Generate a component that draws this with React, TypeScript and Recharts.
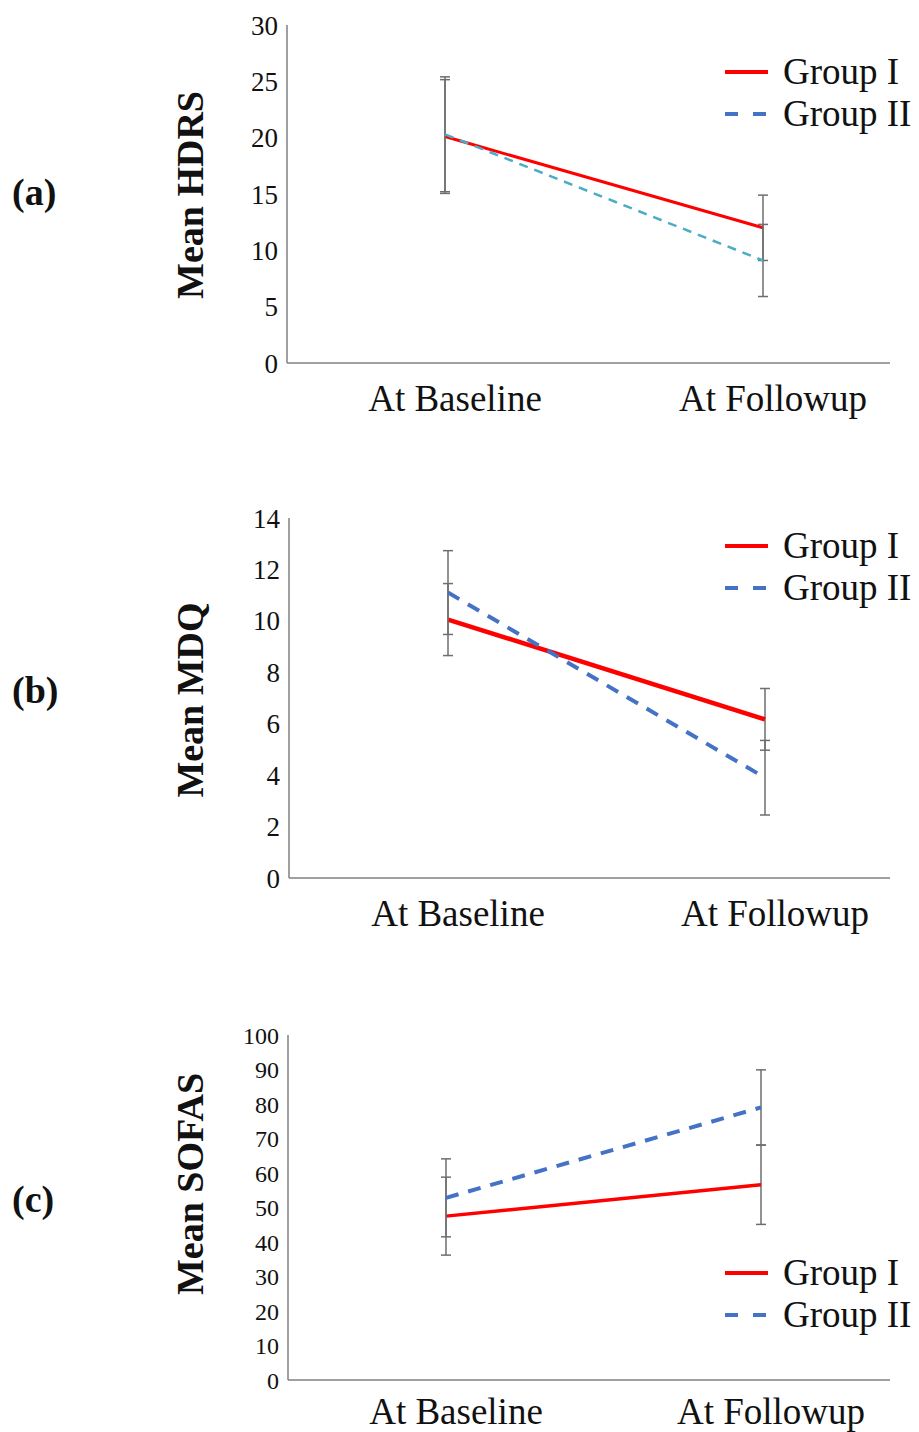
import { LineChart, Line, XAxis, YAxis, ErrorBar, Legend, Label } from "recharts";

const categories = ["At Baseline", "At Followup"];

const hdrsGroup1 = [20.1, 12.0];
const hdrsGroup1Err = [5.05, 2.9];
const hdrsGroup2 = [20.3, 9.1];
const hdrsGroup2Err = [5.1, 3.2];
const hdrsTicks = [0, 5, 10, 15, 20, 25, 30];

const mdqGroup1 = [10.05, 6.17];
const mdqGroup1Err = [1.4, 1.2];
const mdqGroup2 = [11.1, 3.9];
const mdqGroup2Err = [1.63, 1.45];
const mdqTicks = [0, 2, 4, 6, 8, 10, 12, 14];

const sofasGroup1 = [47.5, 56.6];
const sofasGroup1Err = [11.3, 11.5];
const sofasGroup2 = [52.8, 79.0];
const sofasGroup2Err = [11.3, 10.9];
const sofasTicks = [0, 10, 20, 30, 40, 50, 60, 70, 80, 90, 100];

const serif = "'Liberation Serif', 'Times New Roman', serif";
const RED = "#ff0000";
const BLUE = "#4472c4";
const TEAL = "#4bacc6";
const AXIS = "#808080";
const ERR = "#6e6e6e";

const build = (g1: number[], e1: number[], g2: number[], e2: number[]) =>
  categories.map((name, i) => ({ name, g1: g1[i], e1: e1[i], g2: g2[i], e2: e2[i] }));

const renderLegend = () => (
  <div style={{ fontFamily: serif, fontSize: 37, color: "#111" }}>
    {[
      { label: "Group I", color: RED, dash: undefined },
      { label: "Group II", color: BLUE, dash: "13 15" },
    ].map((it) => (
      <div key={it.label} style={{ display: "flex", alignItems: "center", height: 42 }}>
        <svg width={43} height={6} style={{ marginRight: 15 }}>
          <line x1={0} y1={3} x2={43} y2={3} stroke={it.color} strokeWidth={4} strokeDasharray={it.dash} />
        </svg>
        <span style={{ lineHeight: "42px" }}>{it.label}</span>
      </div>
    ))}
  </div>
);

type PanelProps = {
  top: number;
  height: number;
  xAxisHeight: number;
  xTickMargin: number;
  yAxisWidth: number;
  padLeft: number;
  padRight: number;
  data: any[];
  max: number;
  ticks: number[];
  tickSize: number;
  yLabel: string;
  yLabelY: number;
  panel: string;
  panelY: number;
  legendTop: number;
  g2Color: string;
  g1Width: number;
  g2Width: number;
  g2Dash: string;
};

function Panel(p: PanelProps) {
  return (
    <div style={{ position: "absolute", left: 0, top: p.top }}>
      <LineChart width={919} height={p.height} data={p.data} margin={{ top: 25, right: 29, left: 0, bottom: 0 }}>
        <XAxis
          dataKey="name"
          height={p.xAxisHeight}
          padding={{ left: p.padLeft, right: p.padRight }}
          axisLine={{ stroke: AXIS, strokeWidth: 1.5 }}
          tickLine={false}
          tickMargin={p.xTickMargin}
          tick={{ fill: "#111", fontSize: 37, fontFamily: serif, dx: 10 }}
        />
        <YAxis
          width={p.yAxisWidth}
          domain={[0, p.max]}
          ticks={p.ticks}
          interval={0}
          axisLine={{ stroke: AXIS, strokeWidth: 1.5 }}
          tickLine={false}
          tickMargin={3}
          tick={{ fill: "#111", fontSize: p.tickSize, fontFamily: serif }}
        >
          <Label
            content={() => (
              <g>
                <text
                  transform={`translate(203, ${p.yLabelY}) rotate(-90)`}
                  textAnchor="middle"
                  fontFamily={serif}
                  fontWeight="bold"
                  fontSize={38}
                  fill="#111"
                >
                  {p.yLabel}
                </text>
                <text x={12} y={p.panelY} fontFamily={serif} fontWeight="bold" fontSize={38} fill="#111">
                  {p.panel}
                </text>
              </g>
            )}
          />
        </YAxis>
        <Legend
          layout="horizontal"
          verticalAlign="middle"
          align="center"
          content={renderLegend}
          wrapperStyle={{ top: p.legendTop, left: 725, width: 194 }}
        />
        <Line
          dataKey="g1"
          stroke={RED}
          strokeWidth={p.g1Width}
          dot={false}
          isAnimationActive={false}
        >
          <ErrorBar dataKey="e1" width={5} stroke={ERR} strokeWidth={1.5} isAnimationActive={false} />
        </Line>
        <Line
          dataKey="g2"
          stroke={p.g2Color}
          strokeWidth={p.g2Width}
          strokeDasharray={p.g2Dash}
          dot={false}
          isAnimationActive={false}
        >
          <ErrorBar dataKey="e2" width={5} stroke={ERR} strokeWidth={1.5} isAnimationActive={false} />
        </Line>
      </LineChart>
    </div>
  );
}

export default function App() {
  return (
    <div style={{ position: "absolute", left: 0, top: 0, width: 919, height: 1432, background: "#fff", overflow: "hidden" }}>
      <Panel
        top={0}
        height={440}
        xAxisHeight={77}
        xTickMargin={16}
        yAxisWidth={287}
        padLeft={158}
        padRight={127}
        data={build(hdrsGroup1, hdrsGroup1Err, hdrsGroup2, hdrsGroup2Err)}
        max={30}
        ticks={hdrsTicks}
        tickSize={27}
        yLabel="Mean HDRS"
        yLabelY={195}
        panel="(a)"
        panelY={205}
        legendTop={51}
        g2Color={TEAL}
        g1Width={3}
        g2Width={2.5}
        g2Dash="9 7"
      />
      <Panel
        top={493}
        height={462}
        xAxisHeight={77}
        xTickMargin={16}
        yAxisWidth={289}
        padLeft={159}
        padRight={125}
        data={build(mdqGroup1, mdqGroup1Err, mdqGroup2, mdqGroup2Err)}
        max={14}
        ticks={mdqTicks}
        tickSize={27}
        yLabel="Mean MDQ"
        yLabelY={207}
        panel="(b)"
        panelY={210}
        legendTop={32}
        g2Color={BLUE}
        g1Width={4.5}
        g2Width={4}
        g2Dash="13 10"
      />
      <Panel
        top={1010}
        height={422}
        xAxisHeight={52}
        xTickMargin={12}
        yAxisWidth={288}
        padLeft={158}
        padRight={129}
        data={build(sofasGroup1, sofasGroup1Err, sofasGroup2, sofasGroup2Err)}
        max={100}
        ticks={sofasTicks}
        tickSize={24}
        yLabel="Mean SOFAS"
        yLabelY={174}
        panel="(c)"
        panelY={202}
        legendTop={242}
        g2Color={BLUE}
        g1Width={3.5}
        g2Width={4}
        g2Dash="13 10"
      />
    </div>
  );
}
